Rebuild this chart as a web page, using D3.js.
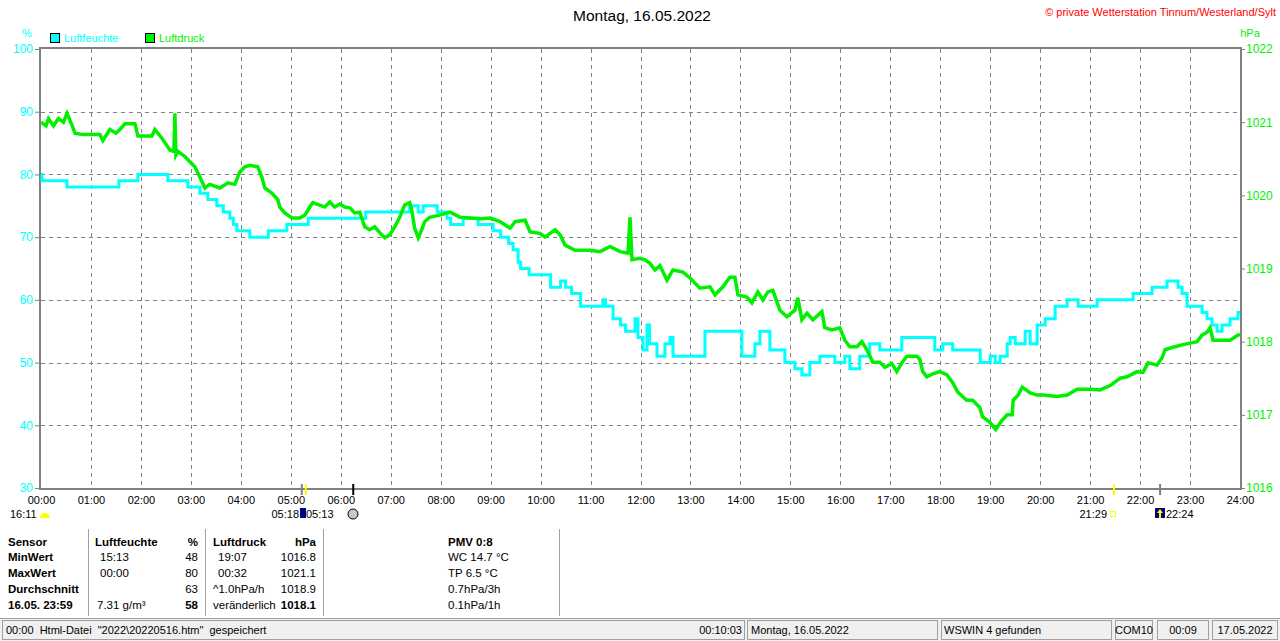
<!DOCTYPE html>
<html>
<head>
<meta charset="utf-8">
<script src="https://cdn.jsdelivr.net/npm/d3@7"></script>
<style>
  body { margin: 0; background: #fff; }
  svg { display: block; font-family: "Liberation Sans", Arial, sans-serif; }
</style>
</head>
<body>
<div id="chart"></div>
<script>
// humidity (%), hour of day -> value (stepped integer readings)
const humTimes = [0, 0.02, 0.52, 1.56, 1.94, 2.54, 2.94, 3.18, 3.34, 3.52, 3.65, 3.78, 3.85, 3.92, 4.18, 4.55, 4.92, 5.35,
  6.50, 7.38, 7.55, 7.65, 7.93, 8.13, 8.20, 8.45, 8.75, 9.05, 9.20, 9.36, 9.45, 9.55, 9.60, 9.77, 10.20, 10.40, 10.50,
  10.62, 10.80, 11.25, 11.30, 11.45, 11.60, 11.70, 11.89, 11.95, 12.05, 12.13, 12.18, 12.33, 12.49, 12.59, 12.65, 13.19, 13.29,
  13.89, 14.03, 14.29, 14.39, 14.59, 14.89, 15.09, 15.23, 15.39, 15.59, 15.89, 16.09, 16.19, 16.39, 16.59, 16.79, 17.05,
  17.23, 17.65, 17.89, 18.05, 18.25, 18.80, 19.00, 19.10, 19.20, 19.34, 19.40, 19.50, 19.70, 19.80, 19.94, 20.10, 20.30,
  20.54, 20.76, 21.14, 21.86, 22.24, 22.54, 22.76, 22.84, 22.94, 23.24, 23.34, 23.44, 23.54, 23.64, 23.80, 23.96, 24];
const humValues = [80, 79, 78, 79, 80, 79, 78, 77, 76, 75, 74, 73, 72, 71, 70, 71, 72, 73,
  74, 75, 74, 75, 74, 73, 72, 73, 72, 71, 70, 69, 68, 66, 65, 64, 62, 63, 62,
  61, 59, 60, 59, 57, 56, 55, 57, 54, 52, 56, 53, 51, 53, 54, 51, 51, 55,
  55, 51, 53, 55, 52, 50, 49, 48, 50, 51, 50, 51, 49, 51, 53, 52, 52,
  54, 54, 52, 53, 52, 50, 51, 50, 51, 53, 54, 53, 55, 53, 56, 57, 59,
  60, 59, 60, 61, 62, 63, 62, 61, 59, 58, 57, 56, 55, 56, 57, 58, 58];

// air pressure (hPa), hour of day -> value
const presTimes = [0, 0.10, 0.15, 0.25, 0.35, 0.45, 0.52, 0.62, 0.68, 0.84, 1.18, 1.24, 1.38, 1.50, 1.58, 1.68, 1.88, 1.94,
  2.22, 2.28, 2.42, 2.50, 2.58, 2.66, 2.68, 2.70, 2.74, 2.88, 2.98, 3.08, 3.18, 3.28, 3.38, 3.58, 3.74, 3.88, 3.98, 4.08,
  4.18, 4.34, 4.42, 4.48, 4.62, 4.74, 4.78, 4.88, 5.02, 5.18, 5.28, 5.38, 5.44, 5.68, 5.78, 5.88, 5.98, 6.08, 6.18, 6.28,
  6.38, 6.48, 6.58, 6.68, 6.78, 6.88, 6.98, 7.08, 7.18, 7.28, 7.38, 7.42, 7.48, 7.55, 7.62, 7.68, 7.78, 7.98, 8.19, 8.39,
  8.59, 8.79, 8.99, 9.19, 9.39, 9.49, 9.69, 9.79, 9.99, 10.09, 10.19, 10.29, 10.39, 10.49, 10.69, 10.99, 11.19, 11.39,
  11.59, 11.75, 11.79, 11.83, 11.99, 12.09, 12.19, 12.29, 12.39, 12.53, 12.65, 12.85, 12.99, 13.19, 13.39, 13.49, 13.65,
  13.79, 13.89, 13.95, 14.13, 14.23, 14.35, 14.45, 14.55, 14.65, 14.79, 14.93, 15.09, 15.15, 15.23, 15.33, 15.45, 15.63,
  15.69, 15.83, 15.99, 16.09, 16.19, 16.33, 16.43, 16.53, 16.65, 16.79, 16.89, 17.03, 17.13, 17.23, 17.33, 17.53, 17.59,
  17.65, 17.73, 17.85, 17.99, 18.13, 18.25, 18.35, 18.53, 18.65, 18.79, 18.85, 18.99, 19.11, 19.23, 19.34, 19.44, 19.46,
  19.56, 19.64, 19.80, 19.94, 20.06, 20.34, 20.54, 20.74, 21.00, 21.20, 21.40, 21.60, 21.74, 21.94, 22.06, 22.16, 22.34,
  22.44, 22.50, 22.64, 22.86, 23.14, 23.24, 23.34, 23.40, 23.46, 23.60, 23.80, 23.96, 24];
const presValues = [1021.0, 1020.95, 1021.05, 1020.95, 1021.05, 1021.0, 1021.12, 1020.96, 1020.85, 1020.83, 1020.83, 1020.75, 1020.9, 1020.85, 1020.9, 1020.98, 1020.98, 1020.81,
  1020.81, 1020.9, 1020.78, 1020.7, 1020.62, 1020.6, 1021.12, 1020.55, 1020.6, 1020.53, 1020.46, 1020.39, 1020.25, 1020.1, 1020.15, 1020.1, 1020.17, 1020.15, 1020.32, 1020.39,
  1020.41, 1020.39, 1020.25, 1020.1, 1020.03, 1019.94, 1019.84, 1019.76, 1019.69, 1019.69, 1019.73, 1019.84, 1019.9, 1019.84, 1019.91, 1019.84, 1019.88, 1019.84, 1019.83, 1019.76,
  1019.77, 1019.57, 1019.53, 1019.57, 1019.49, 1019.42, 1019.46, 1019.57, 1019.7, 1019.87, 1019.9, 1019.8, 1019.55, 1019.42, 1019.53, 1019.64, 1019.7, 1019.73, 1019.77, 1019.7,
  1019.69, 1019.68, 1019.69, 1019.64, 1019.55, 1019.64, 1019.66, 1019.5, 1019.48, 1019.43, 1019.48, 1019.53, 1019.46, 1019.32, 1019.25, 1019.25, 1019.23, 1019.3,
  1019.23, 1019.21, 1019.7, 1019.12, 1019.14, 1019.12, 1019.07, 1018.98, 1019.04, 1018.84, 1018.98, 1018.95, 1018.87, 1018.73, 1018.75, 1018.64, 1018.75,
  1018.88, 1018.88, 1018.64, 1018.61, 1018.53, 1018.68, 1018.57, 1018.68, 1018.7, 1018.43, 1018.34, 1018.43, 1018.6, 1018.3, 1018.39, 1018.3, 1018.41,
  1018.19, 1018.16, 1018.19, 1018.02, 1017.93, 1017.93, 1018.0, 1017.89, 1017.72, 1017.72, 1017.65, 1017.7, 1017.59, 1017.71, 1017.8, 1017.8, 1017.76,
  1017.59, 1017.52, 1017.56, 1017.59, 1017.55, 1017.44, 1017.31, 1017.2, 1017.2, 1017.1, 1016.97, 1016.9, 1016.8, 1016.92, 1017.0, 1017.0, 1017.2,
  1017.27, 1017.38, 1017.3, 1017.27, 1017.27, 1017.25, 1017.27, 1017.35, 1017.35, 1017.34, 1017.4, 1017.5, 1017.52, 1017.59, 1017.58, 1017.71, 1017.68,
  1017.78, 1017.89, 1017.92, 1017.96, 1018.0, 1018.09, 1018.13, 1018.19, 1018.02, 1018.02, 1018.02, 1018.09, 1018.1];

const humTicks = [30, 40, 50, 60, 70, 80, 90, 100];
const presTicks = [1016, 1017, 1018, 1019, 1020, 1021, 1022];
const hourTicks = d3.range(0, 25);

// sun / moon markers on the time axis (hour, colour)
const markerHours = [5.22, 5.30, 6.25, 21.48, 22.40];
const markerColors = ["#808080", "#ffff00", "#000000", "#ffff00", "#808080"];

// statistics table
const tableHead = ["Sensor", "Luftfeuchte", "%", "Luftdruck", "hPa"];
const rowLabels = ["MinWert", "MaxWert", "Durchschnitt", "16.05. 23:59"];
const humTimesCol = ["15:13", "00:00", "", "7.31 g/m³"];
const humValCol = ["48", "80", "63", "58"];
const presTimesCol = ["19:07", "00:32", "^1.0hPa/h", "veränderlich"];
const presValCol = ["1016.8", "1021.1", "1018.9", "1018.1"];
const pmvLines = ["PMV 0:8", "WC 14.7 °C", "TP 6.5 °C", "0.7hPa/3h", "0.1hPa/1h"];

const W = 1280, H = 641;
const plot = {left: 41, right: 1240, top: 49, bottom: 488};
const humColor = "#00ffff", presColor = "#00f000", gridColor = "#808080";

const svg = d3.select("#chart").append("svg")
  .attr("width", W).attr("height", H);

const x = d3.scaleLinear().domain([0, 24]).range([plot.left, plot.right]);
const yH = d3.scaleLinear().domain([30, 100]).range([plot.bottom, plot.top]);
const yP = d3.scaleLinear().domain([1016, 1022]).range([plot.bottom, plot.top]);

// title + copyright
svg.append("text").attr("x", 642).attr("y", 21).attr("text-anchor", "middle")
  .attr("font-size", 15.5).text("Montag, 16.05.2022");
svg.append("text").attr("x", 1276).attr("y", 16).attr("text-anchor", "end")
  .attr("font-size", 11).attr("fill", "#ff0000").text("© private Wetterstation Tinnum/Westerland/Sylt");

// units + legend
svg.append("text").attr("x", 27).attr("y", 37).attr("text-anchor", "middle")
  .attr("font-size", 11).attr("fill", humColor).text("%");
svg.append("text").attr("x", 1250).attr("y", 37).attr("text-anchor", "middle")
  .attr("font-size", 11).attr("fill", presColor).text("hPa");
const legend = [{name: "Luftfeuchte", color: humColor, x: 50}, {name: "Luftdruck", color: presColor, x: 145}];
legend.forEach(l => {
  svg.append("rect").attr("x", l.x + 0.5).attr("y", 33.5).attr("width", 9).attr("height", 9)
    .attr("fill", l.color).attr("stroke", "#000");
  svg.append("text").attr("x", l.x + 14).attr("y", 42).attr("font-size", 11)
    .attr("fill", l.color).text(l.name);
});

// grid
const grid = svg.append("g").attr("stroke", gridColor).attr("stroke-dasharray", "4,4");
grid.selectAll(".vg").data(hourTicks.slice(1, -1)).enter().append("line")
  .attr("x1", d => Math.round(x(d)) + 0.5).attr("x2", d => Math.round(x(d)) + 0.5)
  .attr("y1", plot.top).attr("y2", plot.bottom);
grid.selectAll(".hg").data(humTicks.slice(1, -1)).enter().append("line")
  .attr("x1", plot.left).attr("x2", plot.right)
  .attr("y1", d => Math.round(yH(d)) + 0.5).attr("y2", d => Math.round(yH(d)) + 0.5);

// axes
const axL = svg.append("g").attr("transform", `translate(${plot.left - 1},0)`)
  .call(d3.axisLeft(yH).tickValues(humTicks).tickSize(5).tickPadding(2));
axL.selectAll("text").attr("fill", humColor).attr("font-size", 12).attr("font-family", "Liberation Sans");
const axR = svg.append("g").attr("transform", `translate(${plot.right + 1},0)`)
  .call(d3.axisRight(yP).tickValues(presTicks).tickSize(4).tickPadding(1).tickFormat(d3.format("d")));
axR.selectAll("text").attr("fill", presColor).attr("font-size", 12).attr("font-family", "Liberation Sans");
const axB = svg.append("g").attr("transform", `translate(0,${plot.bottom + 2})`)
  .call(d3.axisBottom(x).tickValues(hourTicks).tickSize(0).tickPadding(6)
    .tickFormat(d => String(d).padStart(2, "0") + ":00"));
axB.selectAll("text").attr("fill", "#000").attr("font-size", 11).attr("font-family", "Liberation Sans");
[axL, axR, axB].forEach(a => { a.select(".domain").remove(); a.selectAll("line").attr("stroke", gridColor); });

// frame
svg.append("rect").attr("x", plot.left - 1).attr("y", plot.top - 1)
  .attr("width", plot.right - plot.left + 2).attr("height", plot.bottom - plot.top + 2)
  .attr("fill", "none").attr("stroke", gridColor).attr("stroke-width", 2);

// lines
const humData = humTimes.map((t, i) => ({t, v: humValues[i]}));
const presData = presTimes.map((t, i) => ({t, v: presValues[i]}));
svg.append("path").datum(humData)
  .attr("fill", "none").attr("stroke", humColor).attr("stroke-width", 3)
  .attr("d", d3.line().x(d => x(d.t)).y(d => yH(d.v)).curve(d3.curveStepAfter));
svg.append("path").datum(presData)
  .attr("fill", "none").attr("stroke", presColor).attr("stroke-width", 3.5)
  .attr("d", d3.line().x(d => x(d.t)).y(d => yP(d.v)));

// sunrise / sunset / moon marks
svg.selectAll(".mk").data(markerHours).enter().append("line")
  .attr("x1", d => x(d)).attr("x2", d => x(d))
  .attr("y1", plot.bottom - 4).attr("y2", plot.bottom + 7)
  .attr("stroke", (d, i) => markerColors[i]).attr("stroke-width", 2);

const small = svg.append("g").attr("font-size", 11);
small.append("text").attr("x", 10).attr("y", 518).text("16:11");
small.append("path").attr("d", "M40,518 A5,5 0 0 1 50,518 Z").attr("fill", "#ffff00");
small.append("text").attr("x", 299).attr("y", 518).attr("text-anchor", "end").text("05:18");
small.append("rect").attr("x", 300).attr("y", 508).attr("width", 6).attr("height", 10).attr("fill", "#000080");
small.append("text").attr("x", 306).attr("y", 518).text("05:13");
small.append("circle").attr("cx", 353).attr("cy", 514).attr("r", 5).attr("fill", "#c8c8c8").attr("stroke", "#000");
small.append("text").attr("x", 1107).attr("y", 518).attr("text-anchor", "end").text("21:29");
small.append("rect").attr("x", 1110.5).attr("y", 511.5).attr("width", 5).attr("height", 5)
  .attr("fill", "none").attr("stroke", "#ffff00");
small.append("rect").attr("x", 1155).attr("y", 508).attr("width", 10).attr("height", 10).attr("fill", "#000080");
small.append("path").attr("d", "M1160,509 L1163,513 L1161,513 L1161,518 L1159,518 L1159,513 L1157,513 Z").attr("fill", "#ffff00");
small.append("text").attr("x", 1166).attr("y", 518).text("22:24");

// statistics table
const tbl = svg.append("g").attr("font-size", 11.5).attr("fill", "#000");
const rowY = [546, 561, 577, 593, 609];
[88, 205, 323, 559].forEach(sx => {
  tbl.append("line").attr("x1", sx + 0.5).attr("x2", sx + 0.5).attr("y1", 529).attr("y2", 616)
    .attr("stroke", "#a0a0a0");
});
const headX = [8, 95, 198, 213, 316];
const headAnchor = ["start", "start", "end", "start", "end"];
tableHead.forEach((h, i) => {
  tbl.append("text").attr("x", headX[i]).attr("y", rowY[0]).attr("text-anchor", headAnchor[i])
    .attr("font-weight", "bold").text(h);
});
rowLabels.forEach((r, i) => {
  const y = rowY[i + 1];
  tbl.append("text").attr("x", 8).attr("y", y).attr("font-weight", "bold").text(r);
  tbl.append("text").attr("x", i === 3 ? 97 : 100).attr("y", y).text(humTimesCol[i]);
  tbl.append("text").attr("x", 198).attr("y", y).attr("text-anchor", "end")
    .attr("font-weight", i === 3 ? "bold" : null).text(humValCol[i]);
  tbl.append("text").attr("x", i >= 2 ? 213 : 218).attr("y", y).text(presTimesCol[i]);
  tbl.append("text").attr("x", 316).attr("y", y).attr("text-anchor", "end")
    .attr("font-weight", i === 3 ? "bold" : null).text(presValCol[i]);
});
pmvLines.forEach((p, i) => {
  tbl.append("text").attr("x", 448).attr("y", rowY[i]).attr("font-weight", i === 0 ? "bold" : null).text(p);
});

// status bar
const sb = svg.append("g");
sb.append("rect").attr("x", 0).attr("y", 618).attr("width", W).attr("height", 23).attr("fill", "#f0f0f0");
sb.append("line").attr("x1", 0).attr("x2", W).attr("y1", 618.5).attr("y2", 618.5).attr("stroke", "#a0a0a0");
const panels = [[2, 745], [747, 938], [941, 1112], [1115, 1153], [1157, 1209], [1212, 1278]];
panels.forEach(p => {
  sb.append("rect").attr("x", p[0] + 0.5).attr("y", 620.5).attr("width", p[1] - p[0] - 1).attr("height", 19)
    .attr("fill", "none").attr("stroke", "#a0a0a0");
});
const sbText = sb.append("g").attr("font-size", 11);
sbText.append("text").attr("x", 6).attr("y", 634).attr("xml:space", "preserve")
  .text('00:00  Html-Datei  "2022\\20220516.htm"  gespeichert');
sbText.append("text").attr("x", 742).attr("y", 634).attr("text-anchor", "end").text("00:10:03");
sbText.append("text").attr("x", 751).attr("y", 634).text("Montag, 16.05.2022");
sbText.append("text").attr("x", 944).attr("y", 634).text("WSWIN 4 gefunden");
sbText.append("text").attr("x", 1134).attr("y", 634).attr("text-anchor", "middle").text("COM10");
sbText.append("text").attr("x", 1183).attr("y", 634).attr("text-anchor", "middle").text("00:09");
sbText.append("text").attr("x", 1245).attr("y", 634).attr("text-anchor", "middle").text("17.05.2022");
</script>
</body>
</html>
